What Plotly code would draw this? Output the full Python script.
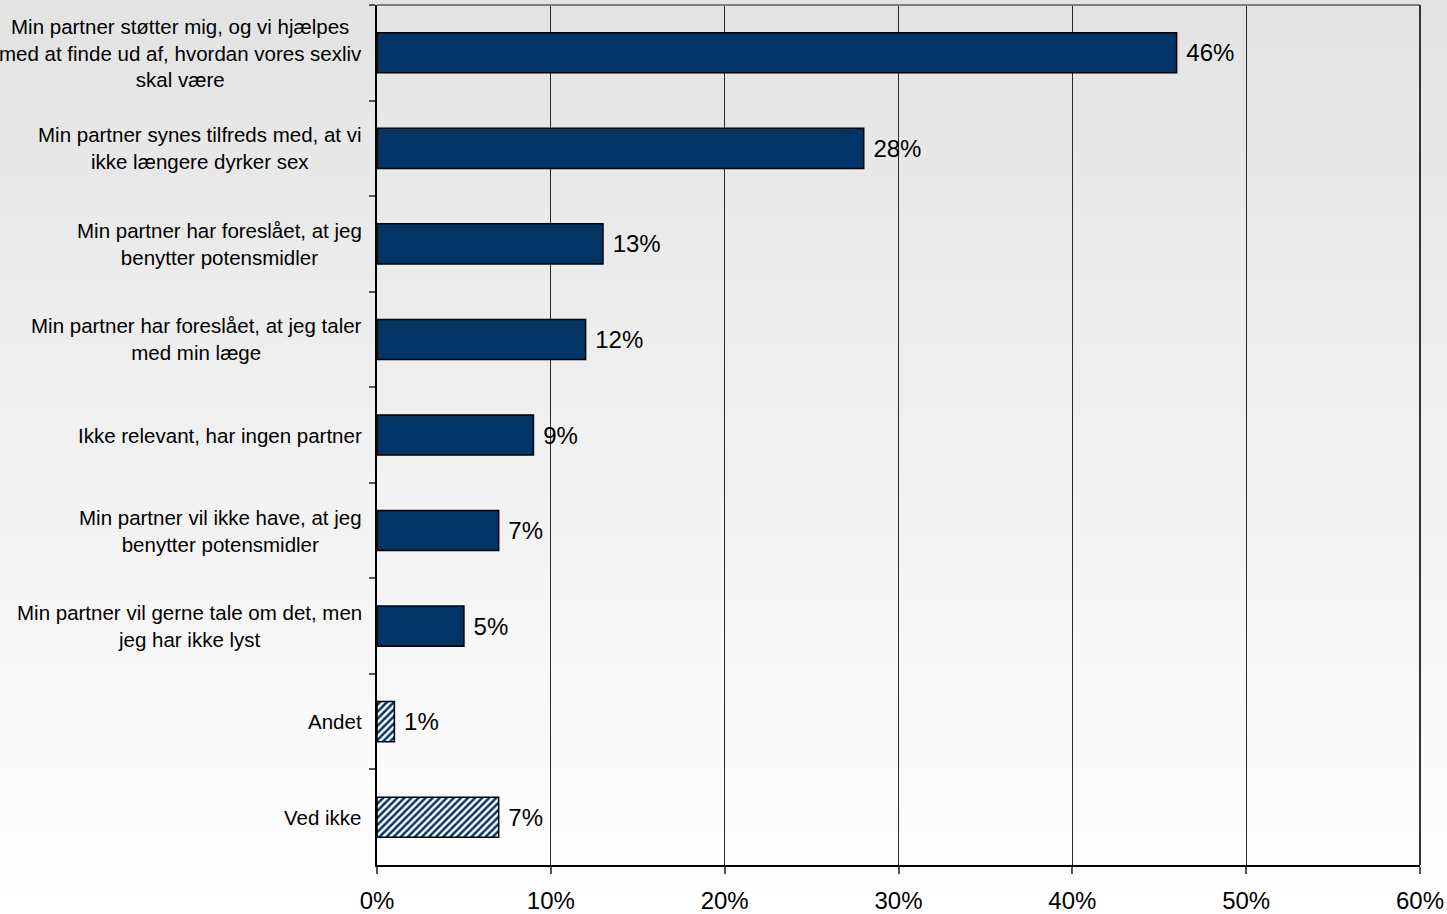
import plotly.graph_objects as go

# Survey answers (top to bottom) and their shares
categories = [
    "Min partner støtter mig, og vi hjælpes<br>med at finde ud af, hvordan vores sexliv<br>skal være",
    "Min partner synes tilfreds med, at vi<br>ikke længere dyrker sex",
    "Min partner har foreslået, at jeg<br>benytter potensmidler",
    "Min partner har foreslået, at jeg taler<br>med min læge",
    "Ikke relevant, har ingen partner",
    "Min partner vil ikke have, at jeg<br>benytter potensmidler",
    "Min partner vil gerne tale om det, men<br>jeg har ikke lyst",
    "Andet",
    "Ved ikke",
]
shares = [0.46, 0.28, 0.13, 0.12, 0.09, 0.07, 0.05, 0.01, 0.07]
hatched = [False, False, False, False, False, False, False, True, True]

x_ticks = [0, 0.1, 0.2, 0.3, 0.4, 0.5, 0.6]
x_tick_labels = ["0%", "10%", "20%", "30%", "40%", "50%", "60%"]

NAVY = "#023466"
FONT = "Liberation Sans, Arial, sans-serif"

fig = go.Figure()

fig.add_trace(go.Bar(
    x=shares,
    y=categories,
    orientation="h",
    marker=dict(
        color=NAVY,
        line=dict(color="black", width=1.5),
        pattern=dict(
            shape=["/" if h else "" for h in hatched],
            fgcolor=NAVY,
            bgcolor="white",
            size=5,
            solidity=0.5,
            fillmode="replace",
        ),
    ),
    # non-breaking space keeps a small gap between bar end and label
    text=[f"\u00a0{round(v * 100)}%" for v in shares],
    textposition="outside",
    constraintext="none",
    cliponaxis=False,
    textfont=dict(family=FONT, size=24, color="black"),
    hoverinfo="skip",
))

# Category labels as centred text blocks to the left of the axis
for cat in categories:
    fig.add_annotation(
        x=0, xref="paper", y=cat, yref="y",
        text=cat, showarrow=False,
        xanchor="right", yanchor="middle", align="center",
        xshift=-13,
        font=dict(family=FONT, size=20.5, color="black"),
    )

# Vertical grey gradient background (darker at the top)
n_bands = 120
top_v, bottom_v = 227, 255
for i in range(n_bands):
    t = i / (n_bands - 1)
    v = round(top_v + (bottom_v - top_v) * t)
    fig.add_shape(
        type="rect", xref="paper", yref="paper",
        x0=-1, x1=2,
        y1=1.01 - i / n_bands * 1.07, y0=1.01 - (i + 1) / n_bands * 1.07 - 0.002,
        fillcolor=f"rgb({v},{v},{v})", line=dict(width=0), layer="below",
    )

# Plot frame: grey top edge, dark right edge
fig.add_shape(type="line", xref="paper", yref="paper", x0=0, x1=1, y0=1, y1=1,
              line=dict(color="#7f7f7f", width=2), layer="above")
fig.add_shape(type="line", xref="paper", yref="paper", x0=1, x1=1, y0=0, y1=1,
              line=dict(color="#333333", width=2), layer="above")

fig.update_layout(
    width=1447, height=914,
    margin=dict(l=377, r=27, t=5, b=49, autoexpand=False),
    paper_bgcolor="white",
    plot_bgcolor="rgba(0,0,0,0)",
    bargap=0.58,
    showlegend=False,
    font=dict(family=FONT, color="black"),
    xaxis=dict(
        range=[0, 0.6],
        tickvals=x_ticks, ticktext=x_tick_labels,
        showgrid=True, gridcolor="#2a2a2a", gridwidth=1,
        showline=True, linecolor="black", linewidth=1.5,
        ticks="outside", ticklen=7, tickcolor="#555555", tickwidth=1.5,
        tickfont=dict(family=FONT, size=24, color="black"),
        ticklabelstandoff=6,
        automargin=False,
        zeroline=False, fixedrange=True,
    ),
    yaxis=dict(
        autorange="reversed",
        showticklabels=False,
        showline=True, linecolor="black", linewidth=2,
        ticks="outside", ticklen=6, tickcolor="#555555", tickwidth=1.5,
        tickson="boundaries",
        automargin=False,
        showgrid=False, zeroline=False, fixedrange=True,
    ),
)

fig.write_html("out.html")
